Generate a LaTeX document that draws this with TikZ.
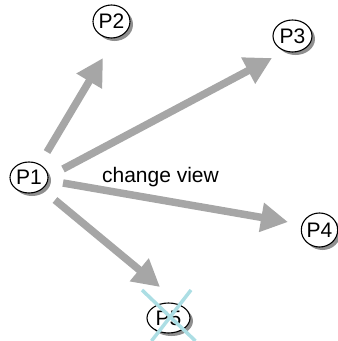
\documentclass[tikz,border=0pt]{standalone}
\usepackage{fontspec}
\setmainfont{Liberation Sans}
\usetikzlibrary{arrows.meta,shadows,shapes.geometric}
\definecolor{flowgray}{RGB}{166,166,166}
\definecolor{strike}{RGB}{172,222,228}
\begin{document}
\begin{tikzpicture}[x=1pt,y=-1pt,
  proc/.style={ellipse,draw=black,line width=1.1pt,fill=white,inner sep=0pt,
    font=\fontsize{21}{24}\selectfont,
    drop shadow={shadow xshift=3pt,shadow yshift=-3pt,fill=black!55,opacity=0.8}},
  flow/.style={draw=flowgray,line width=7.5pt,
    -{Triangle[length=27pt,width=28pt,fill=flowgray]}},
  cross/.style={draw=strike,line width=3.5pt}]
\useasboundingbox (0,0) rectangle (338,341);

% processes
\node[proc,minimum width=38pt,minimum height=31pt] (P1) at (29,177.5) {P1};
\node[proc,minimum width=37pt,minimum height=33pt] (P2) at (111.5,21.5) {P2};
\node[proc,minimum width=39pt,minimum height=32pt] (P3) at (292.5,36) {P3};
\node[proc,minimum width=35pt,minimum height=34pt] (P4) at (319.5,230) {P4};
\node[proc,minimum width=43pt,minimum height=30pt] (P5) at (168.5,318) {P5};

% view changes sent from P1
\draw[flow] ([shift={(18,-25.5)}]P1.center) -- ([shift={(-8.5,36.5)}]P2.center);
\draw[flow] ([shift={(34,-8.5)}]P1.center) -- ([shift={(-20.5,22)}]P3.center);
\draw[flow] ([shift={(34,5.5)}]P1.center) -- ([shift={(-31.5,-8)}]P4.center);
\draw[flow] ([shift={(26,22.5)}]P1.center) -- ([shift={(-8.5,-31)}]P5.center);

\node[font=\fontsize{21}{24}\selectfont] (lbl) at (160.5,177.5) {change view};

% P5 is struck out
\draw[cross] ([shift={(-26.5,-28)}]P5.center) -- ([shift={(27,23)}]P5.center);
\draw[cross] ([shift={(22.5,-28)}]P5.center) -- ([shift={(-17,23)}]P5.center);
\end{tikzpicture}
\end{document}
